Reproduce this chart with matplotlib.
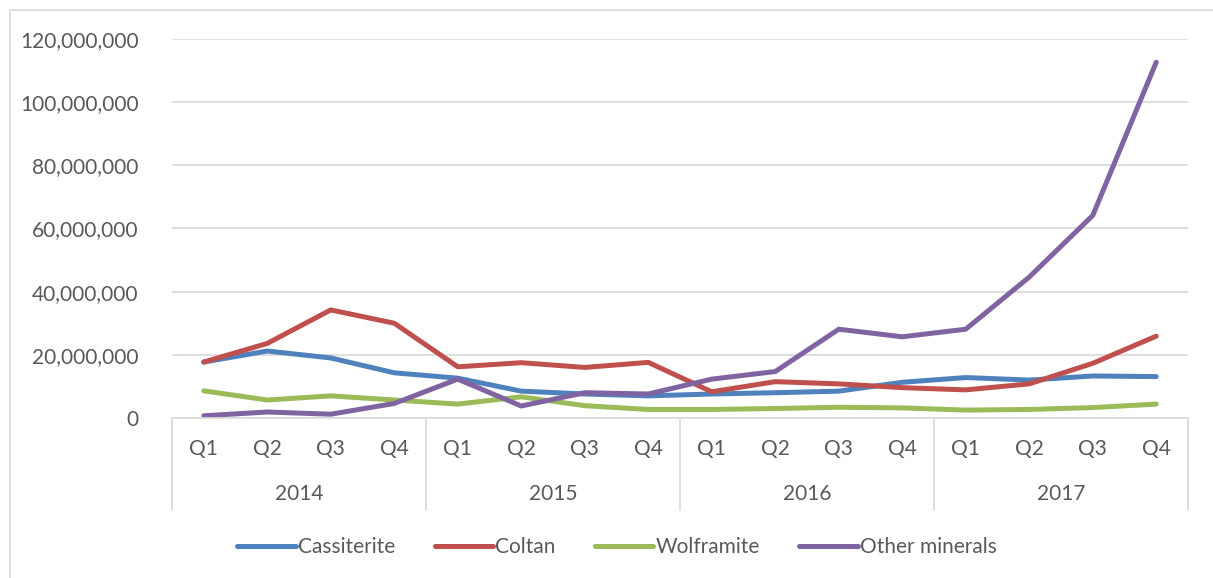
import matplotlib
matplotlib.use("Agg")
import matplotlib.pyplot as plt
from matplotlib.patches import Rectangle
from matplotlib.lines import Line2D

years = ["2014", "2015", "2016", "2017"]
quarters = ["Q1", "Q2", "Q3", "Q4"]
cassiterite = [17.7, 21.2, 19.0, 14.3, 12.6, 8.5, 7.6, 7.0, 7.6, 8.0, 8.5, 11.3, 12.8, 12.0, 13.3, 13.1]
coltan = [17.7, 23.6, 34.2, 30.0, 16.2, 17.5, 16.0, 17.6, 8.3, 11.5, 10.8, 9.6, 8.9, 10.8, 17.3, 25.9]
wolframite = [8.6, 5.7, 7.0, 5.7, 4.4, 6.7, 3.9, 2.7, 2.7, 3.0, 3.4, 3.2, 2.5, 2.7, 3.3, 4.4]
other = [0.7, 1.9, 1.2, 4.6, 12.3, 3.8, 8.0, 7.6, 12.3, 14.7, 28.1, 25.7, 28.1, 44.6, 64.1, 112.6]
series_names = ["Cassiterite", "Coltan", "Wolframite", "Other minerals"]
series_values = [cassiterite, coltan, wolframite, other]
colors = ["#4F81BD", "#C0504D", "#9BBB59", "#8064A2"]
yticks = [0, 20e6, 40e6, 60e6, 80e6, 100e6, 120e6]

W, H = 1213, 578
fig = plt.figure(figsize=(W / 100, H / 100), dpi=100)
font = "Lato"
fs = 15
tc = "#595959"
grid_c = "#D9D9D9"

# outer chart border
fig.patches.append(Rectangle((10 / W, -0.01), 1.1, 1 - 10 / H + 0.01, transform=fig.transFigure,
                             fill=False, edgecolor="#D9D9D9", linewidth=1.2))

left, right, top, bottom = 172, 1188, 38.8, 418
ax = fig.add_axes([left / W, 1 - bottom / H, (right - left) / W, (bottom - top) / H])

n = len(cassiterite)
x = list(range(n))
for name, vals, c in zip(series_names, series_values, colors):
    ax.plot(x, [v * 1e6 for v in vals], color=c, linewidth=3.6, solid_capstyle="round",
            solid_joinstyle="round", label=name)

ax.set_xlim(-0.5, n - 0.5)
ax.set_ylim(0, 120e6)
ax.set_yticks(yticks)
ax.set_yticklabels([f"{int(v):,}" for v in yticks], fontfamily=font, fontsize=fs, color=tc)
ax.tick_params(axis="y", length=0, pad=24)
ax.grid(axis="y", color=grid_c, linewidth=1.2)
ax.set_axisbelow(True)
for s in ["top", "right", "left"]:
    ax.spines[s].set_visible(False)
ax.spines["bottom"].set_color(grid_c)
ax.spines["bottom"].set_linewidth(1.2)
ax.set_xticks([])

# category labels
trans = ax.get_xaxis_transform()
for i in range(n):
    ax.text(i, -31 / (bottom - top), quarters[i % 4], transform=trans, ha="center", va="center",
            fontfamily=font, fontsize=fs, color=tc)
for j, yr in enumerate(years):
    ax.text(j * 4 + 1.5, -76 / (bottom - top), yr, transform=trans, ha="center", va="center",
            fontfamily=font, fontsize=fs, color=tc)
for j in range(len(years) + 1):
    ax.add_line(Line2D([j * 4 - 0.5, j * 4 - 0.5], [0, -92 / (bottom - top)], transform=trans,
                       color=grid_c, linewidth=1.2, clip_on=False))

handles = [Line2D([0], [0], color=c, linewidth=3.6, solid_capstyle="round") for c in colors]
fig.legend(handles, series_names, loc="center", bbox_to_anchor=(617 / W, 1 - 547 / H), ncol=4,
           frameon=False, prop={"family": font, "size": fs}, labelcolor=tc,
           handlelength=2.8, handletextpad=0.1, columnspacing=1.9)

fig.savefig("out.png", dpi=100)
